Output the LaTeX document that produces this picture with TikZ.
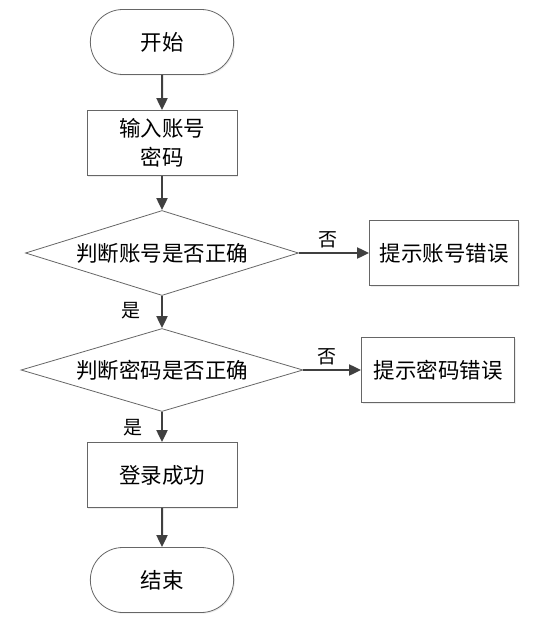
\documentclass[tikz,border=0pt]{standalone}
\usepackage{fontspec}
\setmainfont{Noto Sans CJK SC}
\usetikzlibrary{shapes.geometric, shapes.misc, arrows.meta, shadows}

\begin{document}
\begin{tikzpicture}[x=1pt, y=-1pt,
    every node/.style={font=\fontsize{21.5}{29}\selectfont},
    term/.style={rounded rectangle, draw=black!60, line width=0.8pt, fill=white,
        minimum width=150pt, minimum height=65pt,
        drop shadow={shadow xshift=1.2pt, shadow yshift=-1.2pt, opacity=0.15}},
    proc/.style={rectangle, draw=black!60, line width=0.8pt, fill=white, align=center,
        minimum width=150pt, minimum height=65pt,
        drop shadow={shadow xshift=1.2pt, shadow yshift=-1.2pt, opacity=0.15}},
    dec/.style={diamond, draw=black!60, line width=0.8pt, fill=white, aspect=3.2,
        minimum width=273pt, minimum height=85pt, inner sep=0pt},
    lbl/.style={inner sep=1pt, font=\fontsize{19}{24}\selectfont},
    arr/.style={-{Triangle[length=12pt, width=11pt]}, line width=2pt, draw=black!75}]
			\useasboundingbox (0,0) rectangle (538,632);
			
			\node[term] (start) at (162,42) {开始};
			\node[proc] (input) at (162,143) {输入账号\\密码};
			\node[dec] (chk1) at (162,253) {判断账号是否正确};
			\node[proc, minimum width=149pt] (err1) at (444,253) {提示账号错误};
			\node[dec, minimum width=282pt, minimum height=83pt] (chk2) at (162,370) {判断密码是否正确};
			\node[proc, minimum width=153pt] (err2) at (438,370) {提示密码错误};
			\node[proc] (ok) at (162,475) {登录成功};
			\node[term] (end) at (162,580) {结束};
			
			\node[lbl] (no1) at (328,240) {否};
			\node[lbl] (yes1) at (131,311) {是};
			\node[lbl] (no2) at (327,357) {否};
			\node[lbl] (yes2) at (133,428) {是};
			
			\draw[arr] (start) -- (input);
			\draw[arr] (input) -- (chk1);
			\draw[arr] (chk1) -- (err1);
			\draw[arr] (chk1) -- (chk2);
			\draw[arr] (chk2) -- (err2);
			\draw[arr] (chk2) -- (ok);
			\draw[arr] (ok) -- (end);
		\end{tikzpicture}
\end{document}
